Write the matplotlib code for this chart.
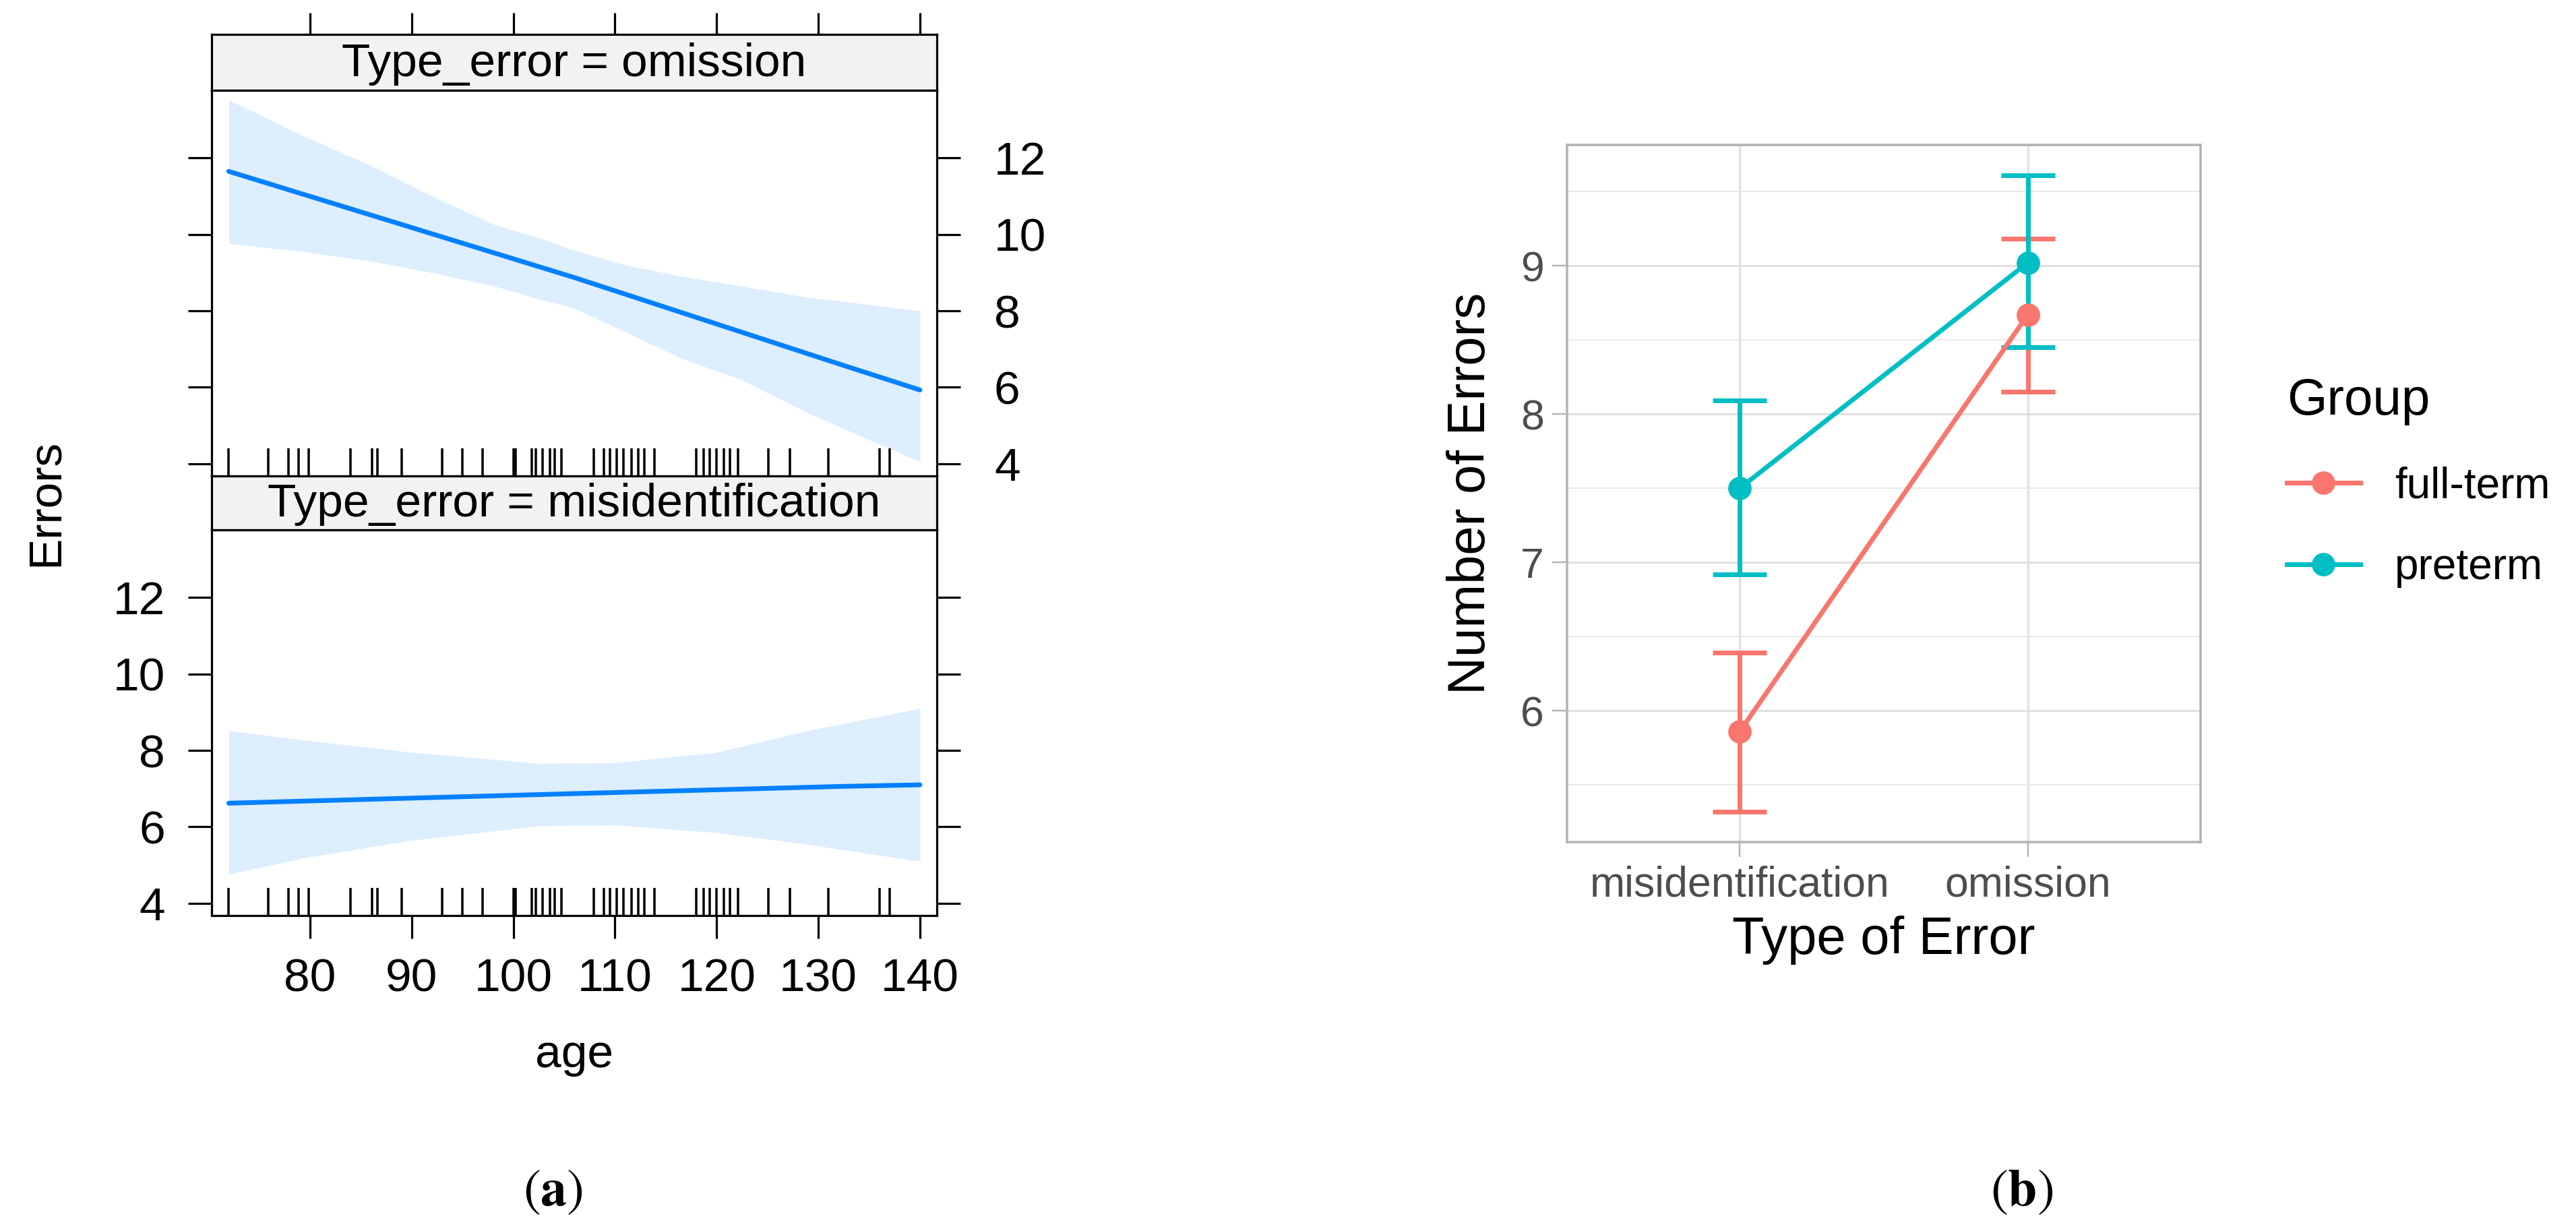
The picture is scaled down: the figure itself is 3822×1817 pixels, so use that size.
import matplotlib
matplotlib.use('Agg')
import matplotlib.pyplot as plt
import numpy as np

plt.rcParams['font.family'] = ['Liberation Sans', 'DejaVu Sans']
plt.rcParams['mathtext.fontset'] = 'stix'

# ---------------- data ----------------
# panel (a): effect of age on errors, by type of error
ages_line = [72, 105.9, 132.4, 140]
line_omission = [11.65, 8.88, 6.58, 5.93]
line_misident = [6.62, 6.87, 7.06, 7.10]

band_ages_o = [72, 79.4, 86, 92, 98, 102.6, 105.9, 111, 116.6, 122.4, 129, 132.4, 140]
band_upper_o = [13.52, 12.57, 11.80, 11.00, 10.27, 9.90, 9.59, 9.20, 8.90, 8.65, 8.35, 8.25, 8.00]
band_lower_o = [9.76, 9.55, 9.30, 9.00, 8.66, 8.30, 8.08, 7.45, 6.75, 6.20, 5.33, 4.93, 4.05]

band_ages_m = [72, 79.4, 90, 102.6, 110, 120, 129, 140]
band_upper_m = [8.52, 8.27, 7.95, 7.66, 7.68, 7.95, 8.52, 9.10]
band_lower_m = [4.76, 5.19, 5.65, 6.03, 6.05, 5.85, 5.54, 5.10]

rug_ages = [72.0, 75.9, 77.9, 78.9, 79.9, 84.0, 86.1, 86.6, 89.0, 93.0, 95.0, 97.0,
            100.0, 100.2, 101.8, 102.2, 102.9, 103.6, 104.1, 104.7, 107.9, 108.9,
            109.5, 110.2, 110.8, 111.6, 112.3, 112.9, 113.9, 118.0, 118.7, 119.3,
            120.0, 120.7, 121.3, 122.1, 125.1, 127.2, 131.0, 136.0, 137.0]

age_ticks = [80, 90, 100, 110, 120, 130, 140]
err_ticks = [4, 6, 8, 10, 12]

# panel (b): mean number of errors by group and type of error
error_types = ['misidentification', 'omission']
groups = ['full-term', 'preterm']
group_colors = ['#F8766D', '#00BFC4']
means = {'full-term': [5.86, 8.67], 'preterm': [7.50, 9.02]}
lows = {'full-term': [5.32, 8.15], 'preterm': [6.92, 8.45]}
highs = {'full-term': [6.39, 9.18], 'preterm': [8.09, 9.61]}

# ---------------- figure ----------------
W, H = 3823, 1817
DPI = 100
PT = 72.0 / DPI
fig = plt.figure(figsize=(W / DPI, H / DPI), dpi=DPI)


def rect(x0, y0, x1, y1):
    return [x0 / W, 1 - y1 / H, (x1 - x0) / W, (y1 - y0) / H]


LAT_FS = 50
XLIM = (70.32, 141.66)
YLIM = (3.68, 13.77)
LINE_BLUE = '#0080FF'
BAND = '#DDEEFF'
FRAME_LW = 3.2 * PT

ax_o_strip = fig.add_axes(rect(314, 51, 1390, 134))
ax_o = fig.add_axes(rect(314, 134, 1390, 706))
ax_m_strip = fig.add_axes(rect(314, 706, 1390, 786))
ax_m = fig.add_axes(rect(314, 786, 1390, 1358))

for ax in (ax_o_strip, ax_o, ax_m_strip, ax_m):
    ax.set_xlim(*XLIM)
    for s in ax.spines.values():
        s.set_linewidth(FRAME_LW)
        s.set_color('black')

for ax, title in ((ax_o_strip, 'Type_error = omission'),
                  (ax_m_strip, 'Type_error = misidentification')):
    ax.set_facecolor('#F2F2F2')
    ax.set_ylim(0, 1)
    ax.set_yticks([])
    ax.text(0.5, 0.47, title, transform=ax.transAxes, ha='center', va='center',
            fontsize=LAT_FS)

ax_o_strip.set_xticks(age_ticks)
ax_o_strip.tick_params(axis='x', bottom=False, labelbottom=False, top=True,
                       labeltop=False, length=32 * PT, width=FRAME_LW, direction='out')
ax_m_strip.set_xticks([])

for ax, ages_b, lo, hi, line in ((ax_o, band_ages_o, band_lower_o, band_upper_o, line_omission),
                                 (ax_m, band_ages_m, band_lower_m, band_upper_m, line_misident)):
    ax.set_ylim(*YLIM)
    ax.fill_between(ages_b, lo, hi, color=BAND, lw=0, zorder=1)
    ax.plot(ages_line, line, color=LINE_BLUE, lw=7 * PT, solid_capstyle='round', zorder=3)
    ax.vlines(rug_ages, 0, 0.072, transform=ax.get_xaxis_transform(),
              color='black', lw=3.5 * PT, zorder=4)
    ax.set_yticks(err_ticks)
    ax.set_xticks(age_ticks)

ax_o.tick_params(axis='y', left=True, right=True, labelleft=False, labelright=True,
                 length=35 * PT, width=FRAME_LW, pad=50 * PT, labelsize=LAT_FS)
ax_o.tick_params(axis='x', bottom=False, labelbottom=False)
ax_m.tick_params(axis='y', left=True, right=True, labelleft=True, labelright=False,
                 length=35 * PT, width=FRAME_LW, pad=34 * PT, labelsize=LAT_FS)
ax_m.tick_params(axis='x', bottom=True, labelbottom=True, length=34 * PT,
                 width=FRAME_LW, pad=28 * PT, labelsize=LAT_FS)

fig.text(68 / W, 1 - 745 / H, 'Errors', rotation=90, ha='center', va='center',
         fontsize=LAT_FS)
fig.text(852 / W, 1 - 1583 / H, 'age', ha='center', va='baseline', fontsize=LAT_FS)

# ---------------- panel (b) ----------------
ax_r = fig.add_axes(rect(2325, 215, 3265, 1249))
xpos = np.arange(len(error_types))
ax_r.set_xlim(-0.6, len(error_types) - 1 + 0.6)
ax_r.set_ylim(5.114, 9.814)
ax_r.set_axisbelow(True)
ax_r.set_xticks(xpos)
ax_r.set_xticklabels(error_types)
ax_r.set_yticks([6, 7, 8, 9])
ax_r.set_yticks([5.5, 6.5, 7.5, 8.5, 9.5], minor=True)
ax_r.grid(which='major', color='#E0E0E0', lw=3 * PT)
ax_r.grid(which='minor', axis='y', color='#E6E6E6', lw=1.8 * PT)
ax_r.tick_params(which='major', length=22 * PT, width=2.5 * PT, color='#B3B3B3',
                 labelcolor='#4D4D4D', labelsize=45)
ax_r.tick_params(axis='x', pad=12 * PT)
ax_r.tick_params(axis='y', pad=12 * PT)
ax_r.tick_params(which='minor', length=0)
for s in ax_r.spines.values():
    s.set_color('#B3B3B3')
    s.set_linewidth(3.5 * PT)

LW_B = 7 * PT
handles = []
for g, c in zip(groups, group_colors):
    m = np.array(means[g])
    lo = np.array(lows[g])
    hi = np.array(highs[g])
    ax_r.errorbar(xpos, m, yerr=[m - lo, hi - m], fmt='none', ecolor=c,
                  elinewidth=LW_B, capsize=28.5, capthick=LW_B, zorder=3)
    h, = ax_r.plot(xpos, m, color=c, lw=LW_B, marker='o', markersize=24,
                   label=g, zorder=4)
    handles.append(h)

fig.text(2183 / W, 1 - 732 / H, 'Number of Errors', rotation=90, ha='center',
         va='center', fontsize=56)
fig.text(2795 / W, 1 - 1415 / H, 'Type of Error', ha='center', va='baseline',
         fontsize=56)

leg = fig.legend(handles, groups, title='Group', loc='upper left',
                 bbox_to_anchor=(3393 / W, 1 - 560 / H), frameon=False,
                 fontsize=46, title_fontsize=55, handlelength=1.7,
                 handletextpad=0.8, labelspacing=0.95, borderpad=0,
                 borderaxespad=0, alignment='left')

# sub-figure labels
fig.text(820 / W, 1 - 1768 / H, r'$(\mathbf{a})$', ha='center', va='center', fontsize=56)
fig.text(3000 / W, 1 - 1768 / H, r'$(\mathbf{b})$', ha='center', va='center', fontsize=56)

fig.savefig('out.png', dpi=DPI)
